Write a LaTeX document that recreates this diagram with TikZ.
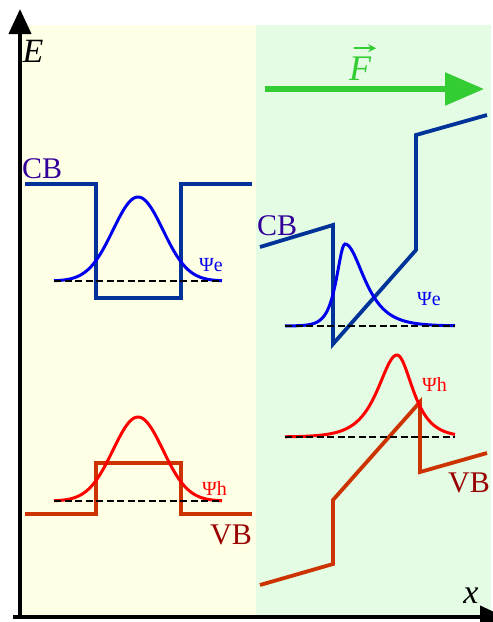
\documentclass[tikz,border=0pt]{standalone}
\usepackage{fontspec}
\setmainfont{Liberation Serif}
\usepackage{xcolor}
\usetikzlibrary{arrows.meta}
\definecolor{panelyellow}{HTML}{FFFFE5}
\definecolor{panelgreen}{HTML}{E4FCE4}
\definecolor{cbblue}{HTML}{003399}
\definecolor{cbtext}{HTML}{330099}
\definecolor{psiblue}{HTML}{0000EE}
\definecolor{vborange}{HTML}{CC3300}
\definecolor{vbtext}{HTML}{990000}
\definecolor{psired}{HTML}{FF0000}
\definecolor{fieldgreen}{HTML}{33CC33}
\tikzset{
  declare function={
    gauss(\t,\c,\s)=exp(-((\t-\c)^2)/(2*\s*\s));
    skew(\t,\c,\wl,\wr)=1/cosh((\t-\c)/((\t<\c)*\wl+(\t>=\c)*\wr));
  },
  cbline/.style={
    draw=cbblue,
    line width=3.8pt
  },
  vbline/.style={
    draw=vborange,
    line width=3.8pt
  },
  ewave/.style={
    draw=psiblue,
    line width=3pt
  },
  hwave/.style={
    draw=psired,
    line width=3pt
  },
  levelline/.style={
    draw=black,
    line width=2.5pt,
    dash pattern=on 7pt off 3.5pt
  },
  axisline/.style={
    -{Triangle[length=25pt,width=22pt]},
    line width=4pt,
    draw=black
  },
  fieldarrow/.style={
    -{Triangle[length=39pt,width=32pt]},
    line width=5.5pt,
    draw=fieldgreen
  },
  vecarrow/.style={
    -{Stealth[length=8pt,width=8pt]},
    line width=1.5pt,
    draw=fieldgreen
  },
  bandlabel/.style={
    font=\fontsize{30}{30}\selectfont,
    inner sep=0pt,
    anchor=base west
  },
  wavelabel/.style={
    font=\fontsize{20}{20}\selectfont,
    inner sep=0pt,
    anchor=base west
  },
  axislabel/.style={
    font=\fontsize{34}{34}\selectfont\itshape,
    inner sep=0pt,
    anchor=base
  }
}

\begin{document}
\begin{tikzpicture}[x=1pt, y=-1pt]

\clip (0,0) rectangle (493,622);
\fill[white] (0,0) rectangle (493,622);

% panels
\fill[panelyellow] (20,25) rectangle (256,617);
\fill[panelgreen] (256,25) rectangle (491,617);

% flat bands
\draw[cbline] (25,184) -- (96,184) -- (96,298) -- (181,298) -- (181,184) -- (252,184);
\draw[vbline] (25,514) -- (96,514) -- (96,463) -- (181,463) -- (181,514) -- (252,514);

% tilted bands
\draw[cbline] (260,247) -- (333,225) -- (333,344) -- (416,250) -- (416,135) -- (487,115);
\draw[vbline] (260,585) -- (333,564) -- (333,500) -- (420,402) -- (420,472) -- (487,453);

% wave functions
\draw[ewave] plot[domain=54:222, samples=100] (\x, {281-84*gauss(\x,138,25)});
\draw[hwave] plot[domain=54:222, samples=100] (\x, {501-84*gauss(\x,138,25)});
\draw[ewave] plot[domain=285:455, samples=140] (\x, {326-82*skew(\x,345,7.5,17)});
\draw[hwave] plot[domain=285:455, samples=140] (\x, {437-82*skew(\x,397,17,14)});

% levels
\draw[levelline] (54,281) -- (222,281);
\draw[levelline] (54,501) -- (222,501);
\draw[levelline] (285,326) -- (455,326);
\draw[levelline] (285,437) -- (455,437);

% field
\coordinate (fstart) at (265,89);
\coordinate (fend) at (484,89);
\draw[fieldarrow] (fstart) -- (fend);
\node[axislabel, font=\fontsize{36}{36}\selectfont\itshape, text=fieldgreen] (force) at (360,80) {F};
\draw[vecarrow] ([xshift=5pt,yshift=8pt]force.north west) -- ([xshift=5pt,yshift=8pt]force.north east);

% axes
\coordinate (ybase) at (20,619);
\coordinate (ytip) at (20,9);
\coordinate (xbase) at (13,617);
\coordinate (xtip) at (505,617);
\draw[axisline] (ybase) -- (ytip);
\draw[axisline] (xbase) -- (xtip);
\node[axislabel] (elabel) at (33,62) {E};
\node[axislabel] (xlabel) at (471,603) {x};

% labels
\node[bandlabel, text=cbtext] (cbleft) at (22,178) {CB};
\node[bandlabel, text=cbtext] (cbright) at (257,235) {CB};
\node[bandlabel, text=vbtext] (vbleft) at (210,544) {VB};
\node[bandlabel, text=vbtext] (vbright) at (448,492) {VB};
\node[wavelabel, text=psiblue] (psieleft) at (199,271) {Ψe};
\node[wavelabel, text=psiblue] (psieright) at (417,305) {Ψe};
\node[wavelabel, text=psired] (psihleft) at (202,495) {Ψh};
\node[wavelabel, text=psired] (psihright) at (422,391) {Ψh};

\end{tikzpicture}
\end{document}
